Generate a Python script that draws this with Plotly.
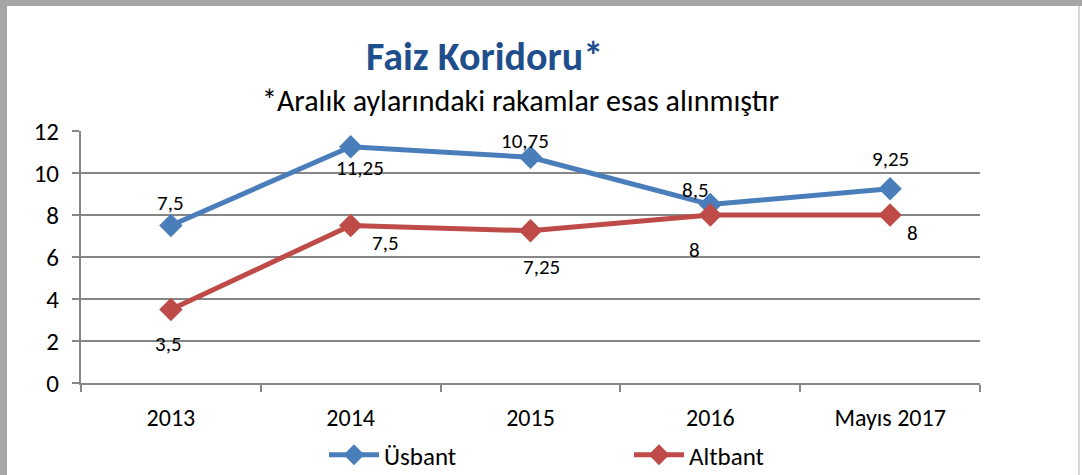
import plotly.graph_objects as go

categories = ["2013", "2014", "2015", "2016", "Mayıs 2017"]
usbant = [7.5, 11.25, 10.75, 8.5, 9.25]
altbant = [3.5, 7.5, 7.25, 8, 8]
y_ticks = [0, 2, 4, 6, 8, 10, 12]

# label offsets (pixels) for data labels
us_off = [(0, 23), (9, -21), (-6, 16), (-15, 15), (0, 30)]
al_off = [(-2, -34), (35, -17), (11, -36), (-16, -35), (22, -18)]

FONT = "Carlito, Lato, 'Open Sans', sans-serif"
BLUE = "#4a7ebb"
RED = "#be4b48"

W, H = 1082, 475
L, R, T, B = 81, 102, 131, 92
PW, PH = W - L - R, H - T - B

fig = go.Figure()
fig.add_trace(go.Scatter(x=categories, y=usbant, name="Üsbant", mode="lines+markers",
                         line=dict(color=BLUE, width=5),
                         marker=dict(symbol="diamond", size=18, color=BLUE)))
fig.add_trace(go.Scatter(x=categories, y=altbant, name="Altbant", mode="lines+markers",
                         line=dict(color=RED, width=5),
                         marker=dict(symbol="diamond", size=18, color=RED)))


def fmt(v):
    return ("%g" % v).replace(".", ",")


anns = []
for vals, offs in ((usbant, us_off), (altbant, al_off)):
    for i, (v, (dx, dy)) in enumerate(zip(vals, offs)):
        anns.append(dict(x=i, y=v, xref="x", yref="y", text=fmt(v), showarrow=False,
                         xshift=dx, yshift=dy,
                         font=dict(family=FONT, size=21, color="#000")))

anns.append(dict(text="<b>Faiz Koridoru*</b>", xref="paper", yref="paper", x=(484 - L) / PW,
                 y=1 + (T - 57) / PH, xanchor="center", yanchor="middle", showarrow=False,
                 font=dict(family=FONT, size=40, color="#1f4e8c")))
anns.append(dict(text="*Aralık aylarındaki rakamlar esas alınmıştır", xref="paper", yref="paper",
                 x=(520 - L) / PW, y=1 + (T - 100) / PH, xanchor="center", yanchor="middle",
                 showarrow=False, font=dict(family=FONT, size=30, color="#000")))

fig.update_layout(
    width=W, height=H,
    margin=dict(l=L, r=R, t=T, b=B, autoexpand=False),
    paper_bgcolor="white", plot_bgcolor="white",
    separators=",.",
    showlegend=True,
    legend=dict(orientation="h", xref="container", yref="container",
                x=324 / W, xanchor="left", y=1 - 455 / H, yanchor="middle",
                font=dict(family=FONT, size=25, color="#000"),
                entrywidth=240, entrywidthmode="pixels", itemwidth=50,
                bgcolor="rgba(0,0,0,0)"),
    annotations=anns,
    xaxis=dict(type="category", showgrid=False, showline=True, linecolor="#868686", linewidth=2,
               ticks="outside", tickson="boundaries", ticklen=7, tickcolor="#868686", tickwidth=2,
               ticklabelstandoff=12, automargin=False,
               tickfont=dict(family=FONT, size=24, color="#000"), range=[-0.5, 4.5]),
    yaxis=dict(range=[0, 12], tickvals=y_ticks, showgrid=True, gridcolor="#868686", gridwidth=2,
               showline=True, linecolor="#868686", linewidth=2, ticks="outside", ticklen=7,
               tickcolor="#868686", tickwidth=2, zeroline=False, ticklabelstandoff=8,
               automargin=False,
               tickfont=dict(family=FONT, size=25, color="#000")),
    shapes=[
        dict(type="rect", xref="paper", yref="paper", x0=-L / PW, x1=-(L - 7) / PW, y0=-B / PH,
             y1=1 + T / PH, fillcolor="#a6a6a6", line=dict(width=0), layer="above"),
        dict(type="rect", xref="paper", yref="paper", x0=-L / PW, x1=1 + R / PW,
             y0=1 + (T - 6) / PH, y1=1 + T / PH, fillcolor="#a6a6a6", line=dict(width=0), layer="above"),
        dict(type="line", xref="paper", yref="paper", x0=1 + (R - 3) / PW, x1=1 + (R - 3) / PW,
             y0=-B / PH, y1=1 + (T - 6) / PH, line=dict(color="#b0b0b0", width=1)),
    ],
)

fig.write_html("out.html", config={"displayModeBar": False},
               post_script="document.body.style.margin='0';document.body.style.overflow='hidden';")
